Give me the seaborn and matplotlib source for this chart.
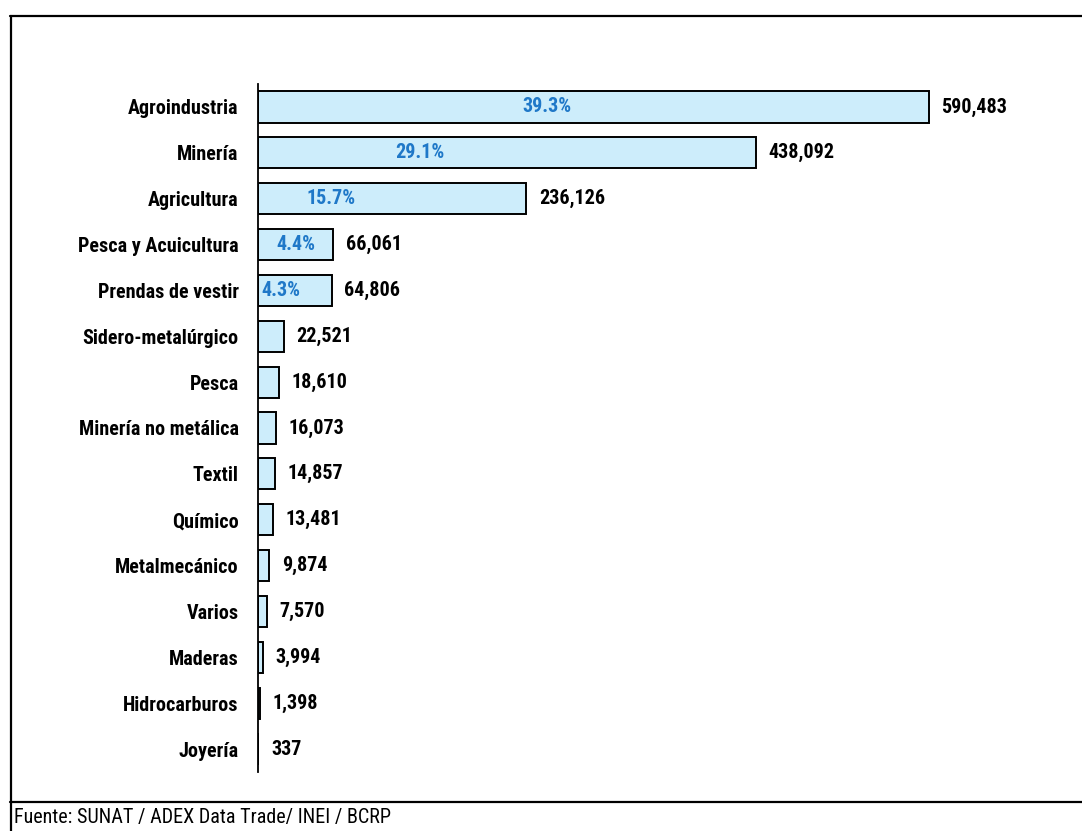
import matplotlib
matplotlib.use("Agg")
import matplotlib.pyplot as plt
from matplotlib.lines import Line2D
import seaborn as sns
import pandas as pd

categories = ["Agroindustria", "Minería", "Agricultura", "Pesca y Acuicultura",
              "Prendas de vestir", "Sidero-metalúrgico", "Pesca", "Minería no metálica",
              "Textil", "Químico", "Metalmecánico", "Varios", "Maderas",
              "Hidrocarburos", "Joyería"]
values = [590483, 438092, 236126, 66061, 64806, 22521, 18610, 16073,
          14857, 13481, 9874, 7570, 3994, 1398, 337]
pct_labels = ["39.3%", "29.1%", "15.7%", "4.4%", "4.3%"]
pct_positions = [254300, 142500, 64200, 33400, 20200]
footer = "Fuente: SUNAT / ADEX Data Trade/ INEI / BCRP"

sns.set_theme(style="white")
FONT = ["Roboto Condensed", "Archivo Narrow", "IBM Plex Sans Condensed",
        "Open Sans Condensed", "DejaVu Sans"]
plt.rcParams["font.family"] = FONT

df = pd.DataFrame({"cat": categories, "val": values})

W, H = 1082, 831
FS = 14.5
fig = plt.figure(figsize=(W / 100, H / 100), dpi=100)
ax = fig.add_axes([258 / W, 1 - 772 / H, (1060 - 258) / W, (772 - 84) / H])

sns.barplot(data=df, y="cat", x="val", orient="h", ax=ax, color="#CDEDFB",
            edgecolor="black", linewidth=1.4, width=0.68, saturation=1)

ax.set_xlim(0, 590483 * (1060 - 258) / (929 - 258))
ax.set_ylim(14.5, -0.5)
ax.set_xlabel("")
ax.set_ylabel("")
ax.set_xticks([])
for s in ["top", "right", "bottom"]:
    ax.spines[s].set_visible(False)
ax.spines["left"].set_color("black")
ax.spines["left"].set_linewidth(1.3)
ax.tick_params(axis="y", length=0, pad=14)
for lab in ax.get_yticklabels():
    lab.set_fontweight("bold")
    lab.set_fontsize(FS)
    lab.set_color("black")

for i, v in enumerate(values):
    ax.annotate(f"{v:,}", xy=(v, i), xytext=(9, 0), textcoords="offset points",
                ha="left", va="center", fontsize=FS, fontweight="bold", color="black")

for i, (p, x) in enumerate(zip(pct_labels, pct_positions)):
    ax.text(x, i, p, ha="center", va="center", fontsize=FS, fontweight="bold",
            color="#1F78C8")

# frame lines
fig.add_artist(Line2D([10 / W, 1], [1 - 16 / H, 1 - 16 / H], transform=fig.transFigure,
                      color="black", linewidth=1.6))
fig.add_artist(Line2D([11 / W, 11 / W], [1 - 16 / H, 0], transform=fig.transFigure,
                      color="black", linewidth=1.6))
fig.add_artist(Line2D([10 / W, 1], [1 - 802 / H, 1 - 802 / H], transform=fig.transFigure,
                      color="black", linewidth=1.6))
fig.text(14 / W, 1 - 817 / H, footer, ha="left", va="center", fontsize=FS, color="black")

fig.savefig("out.png", dpi=100)
